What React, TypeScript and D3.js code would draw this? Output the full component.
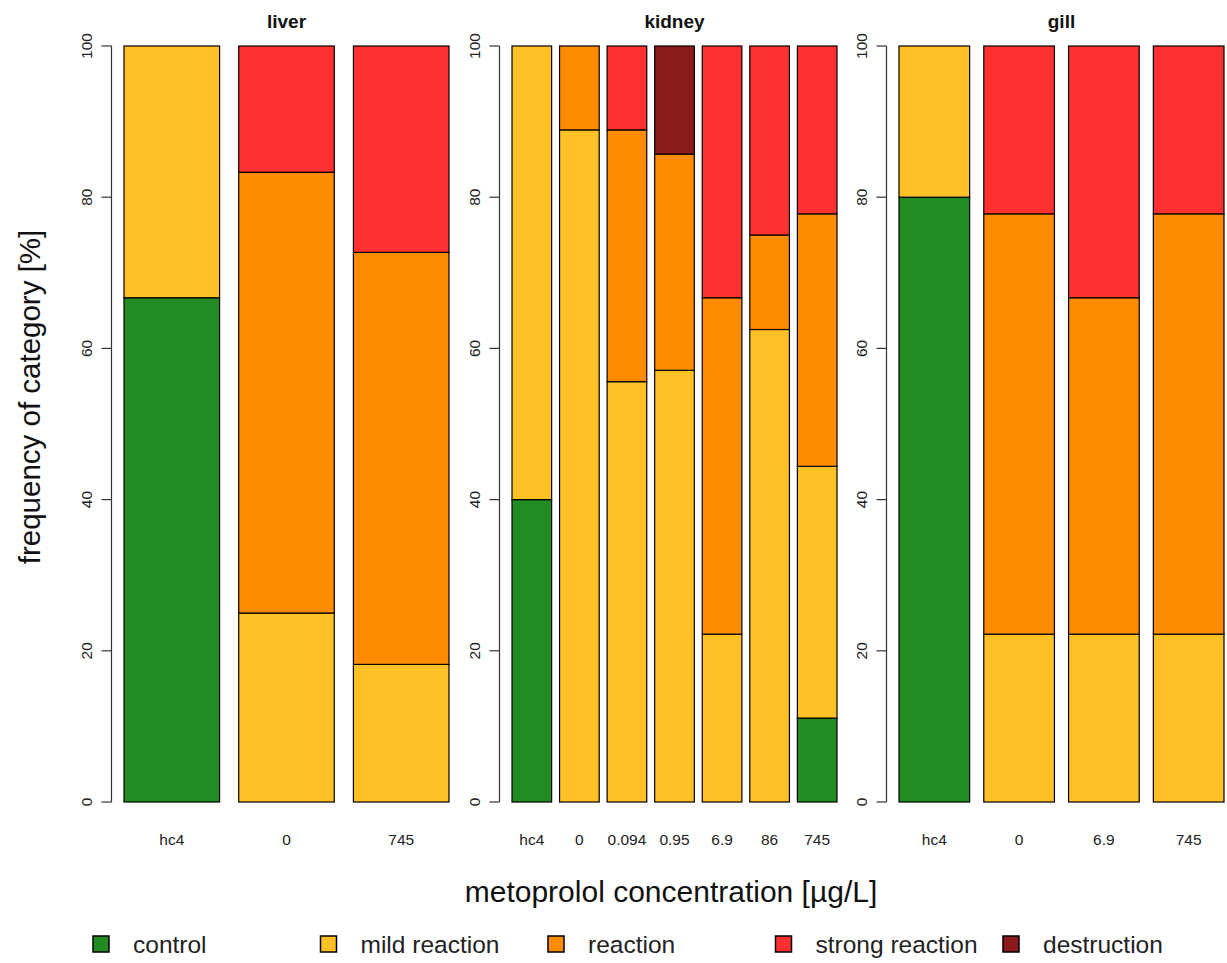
import { useEffect, useRef } from "react";
import * as d3 from "d3";

const categories = ["control", "mild reaction", "reaction", "strong reaction", "destruction"];

const liverLabels = ["hc4", "0", "745"];
const liverValues = [
  [66.7, 33.3, 0, 0, 0],
  [0, 25, 58.3, 16.7, 0],
  [0, 18.2, 54.5, 27.3, 0],
];

const kidneyLabels = ["hc4", "0", "0.094", "0.95", "6.9", "86", "745"];
const kidneyValues = [
  [40, 60, 0, 0, 0],
  [0, 88.9, 11.1, 0, 0],
  [0, 55.6, 33.3, 11.1, 0],
  [0, 57.1, 28.6, 0, 14.3],
  [0, 22.2, 44.5, 33.3, 0],
  [0, 62.5, 12.5, 25, 0],
  [11.1, 33.3, 33.4, 22.2, 0],
];

const gillLabels = ["hc4", "0", "6.9", "745"];
const gillValues = [
  [80, 20, 0, 0, 0],
  [0, 22.2, 55.6, 22.2, 0],
  [0, 22.2, 44.5, 33.3, 0],
  [0, 22.2, 55.6, 22.2, 0],
];

const yTicks = [0, 20, 40, 60, 80, 100];

const palette = ["#228B22", "#FFC125", "#FF8C00", "#FF3030", "#8B1A1A"];

const panels = [
  { title: "liver", labels: liverLabels, values: liverValues },
  { title: "kidney", labels: kidneyLabels, values: kidneyValues },
  { title: "gill", labels: gillLabels, values: gillValues },
];

const FONT = "'Liberation Sans', Arial, sans-serif";

const App: React.FC = () => {
  const svgRef = useRef<SVGSVGElement>(null);

  useEffect(() => {
    const width = 1227;
    const height = 963;
    const svg = d3.select(svgRef.current);
    svg.selectAll("*").remove();
    svg.attr("width", width).attr("height", height);

    const y = d3.scaleLinear().domain([0, 100]).range([802, 46]);
    const panelWidth = 351;
    const panelLeft = [111, 499, 886];

    panels.forEach((p, pi) => {
      const n = p.labels.length;
      // R barplot layout: space 0.2, width 1, 4% axis expansion
      const r = n * 1.2 - 0.2;
      const x = d3
        .scaleLinear()
        .domain([0.2 - 0.04 * r, n * 1.2 + 0.04 * r])
        .range([panelLeft[pi], panelLeft[pi] + panelWidth]);

      const g = svg.append("g");

      const rows = p.values.map((v) => {
        const o: Record<string, number> = {};
        categories.forEach((c, i) => (o[c] = v[i]));
        return o;
      });
      const series = d3.stack<Record<string, number>>().keys(categories)(rows);

      series.forEach((s, ci) => {
        g.append("g")
          .selectAll("rect")
          .data(s.map((d, i) => ({ d, i })).filter((e) => e.d[1] - e.d[0] > 0))
          .enter()
          .append("rect")
          .attr("x", (e) => x(0.2 + e.i * 1.2))
          .attr("width", (e) => x(1.2 + e.i * 1.2) - x(0.2 + e.i * 1.2))
          .attr("y", (e) => y(e.d[1]))
          .attr("height", (e) => y(e.d[0]) - y(e.d[1]))
          .attr("fill", palette[ci])
          .attr("stroke", "#000")
          .attr("stroke-width", 1.2);
      });

      // y axis
      const ax = panelLeft[pi] + 0.5;
      g.append("line")
        .attr("x1", ax).attr("x2", ax)
        .attr("y1", y(0)).attr("y2", y(100))
        .attr("stroke", "#333").attr("stroke-width", 1.2);
      yTicks.forEach((t) => {
        g.append("line")
          .attr("x1", ax - 10).attr("x2", ax)
          .attr("y1", y(t)).attr("y2", y(t))
          .attr("stroke", "#333").attr("stroke-width", 1.2);
        g.append("text")
          .attr("transform", `translate(${ax - 20},${y(t)}) rotate(-90)`)
          .attr("text-anchor", "middle")
          .attr("font-family", FONT)
          .attr("font-size", 15.5)
          .attr("fill", "#222")
          .text(t);
      });

      // x labels
      p.labels.forEach((lab, i) => {
        g.append("text")
          .attr("x", x(0.7 + i * 1.2))
          .attr("y", 845)
          .attr("text-anchor", "middle")
          .attr("font-family", FONT)
          .attr("font-size", 15.5)
          .attr("fill", "#222")
          .text(lab);
      });

      // panel title
      g.append("text")
        .attr("x", panelLeft[pi] + panelWidth / 2)
        .attr("y", 28)
        .attr("text-anchor", "middle")
        .attr("font-family", FONT)
        .attr("font-size", 19)
        .attr("font-weight", "bold")
        .attr("fill", "#111")
        .text(p.title);
    });

    // axis titles
    svg.append("text")
      .attr("x", 671)
      .attr("y", 902)
      .attr("text-anchor", "middle")
      .attr("font-family", FONT)
      .attr("font-size", 30)
      .attr("fill", "#111")
      .text("metoprolol concentration [µg/L]");

    svg.append("text")
      .attr("transform", "translate(40,397) rotate(-90)")
      .attr("text-anchor", "middle")
      .attr("font-family", FONT)
      .attr("font-size", 29.5)
      .attr("fill", "#111")
      .text("frequency of category [%]");

    // legend
    const lx = d3.scaleLinear().domain([0, 4]).range([93, 1003]);
    categories.forEach((c, i) => {
      svg.append("rect")
        .attr("x", lx(i)).attr("y", 936)
        .attr("width", 16).attr("height", 16)
        .attr("fill", palette[i])
        .attr("stroke", "#000")
        .attr("stroke-width", 1.5);
      svg.append("text")
        .attr("x", lx(i) + 40)
        .attr("y", 953)
        .attr("font-family", FONT)
        .attr("font-size", 24.5)
        .attr("fill", "#222")
        .text(c);
    });
  }, []);

  return <svg ref={svgRef} style={{ position: "absolute", left: 0, top: 0, background: "#fff" }}></svg>;
};

export default App;
